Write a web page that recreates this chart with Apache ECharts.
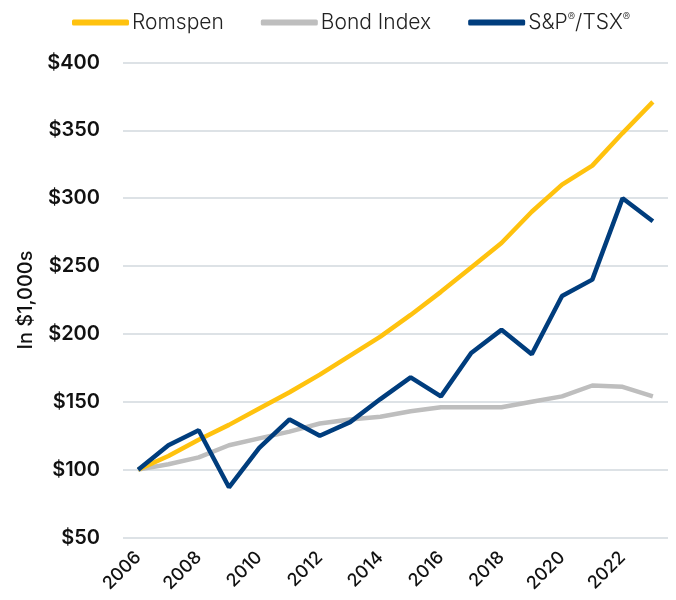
<!DOCTYPE html>
<html><head><meta charset="utf-8">
<script src="https://cdn.jsdelivr.net/npm/echarts@6/dist/echarts.min.js"></script>
<style>html,body{margin:0;padding:0;background:#fff}#c{width:676px;height:600px}</style>
</head><body><div id="c"></div>
<script>
const years = ['2006','2007','2008','2009','2010','2011','2012','2013','2014','2015','2016','2017','2018','2019','2020','2021','2022','2023'];
const romspen = [100,110,122,133,145,157,170,184,198,214,231,249,267,290,310,324,348,371];
const bondIndex = [100,104,109,118,123,128,134,137,139,143,146,146,146,150,154,162,161,154];
const spTsx = [100,118,129,87,116,137,125,135,152,168,154,186,203,185,228,240,300,283];
const yTicks = [50,100,150,200,250,300,350,400];
const seriesNames = ['Romspen','Bond Index','S&P®/TSX®'];

const font = 'Inter';
const chart = echarts.init(document.getElementById('c'), null, {renderer:'canvas'});
chart.setOption({
  animation:false,
  textStyle:{fontFamily:font},
  legend:{
    top:7, left:67,
    itemWidth:57, itemHeight:6, itemGap:37,
    icon:'roundRect',
    formatter: n => n.replace(/®/g, '{sup|®}'),
    textStyle:{fontSize:21, color:'#222', fontFamily:font, fontWeight:300, padding:[0,0,0,-2],
      rich:{sup:{fontSize:11, fontFamily:font, color:'#222', verticalAlign:'top', padding:[0,0,0,0]}}},
    data:seriesNames
  },
  grid:{left:123, right:8, top:62.5, bottom:62.5},
  xAxis:{
    type:'category', data:years, boundaryGap:true,
    axisLine:{show:false}, axisTick:{show:false},
    axisLabel:{interval:1, rotate:45, fontSize:18, color:'#111', fontWeight:500, margin:17}
  },
  yAxis:{
    type:'value', min:yTicks[0], max:yTicks[yTicks.length-1], interval:50,
    name:'In $1,000s', nameLocation:'middle', nameGap:83,
    nameTextStyle:{fontSize:20, color:'#111', fontWeight:500},
    axisLine:{show:false}, axisTick:{show:false},
    axisLabel:{formatter:v=>'$'+v, fontSize:20, fontWeight:600, color:'#111', margin:23},
    splitLine:{lineStyle:{color:'#DDE2E6', width:2}}
  },
  series:[
    {name:seriesNames[0], type:'line', data:romspen, symbol:'none', lineStyle:{color:'#FFC20E', width:4.5}, itemStyle:{color:'#FFC20E'}, z:2},
    {name:seriesNames[1], type:'line', data:bondIndex, symbol:'none', lineStyle:{color:'#BEBEBE', width:4.5}, itemStyle:{color:'#BEBEBE'}, z:1},
    {name:seriesNames[2], type:'line', data:spTsx, symbol:'none', lineStyle:{color:'#003D7D', width:4.5}, itemStyle:{color:'#003D7D'}, z:3}
  ]
});
</script></body></html>
